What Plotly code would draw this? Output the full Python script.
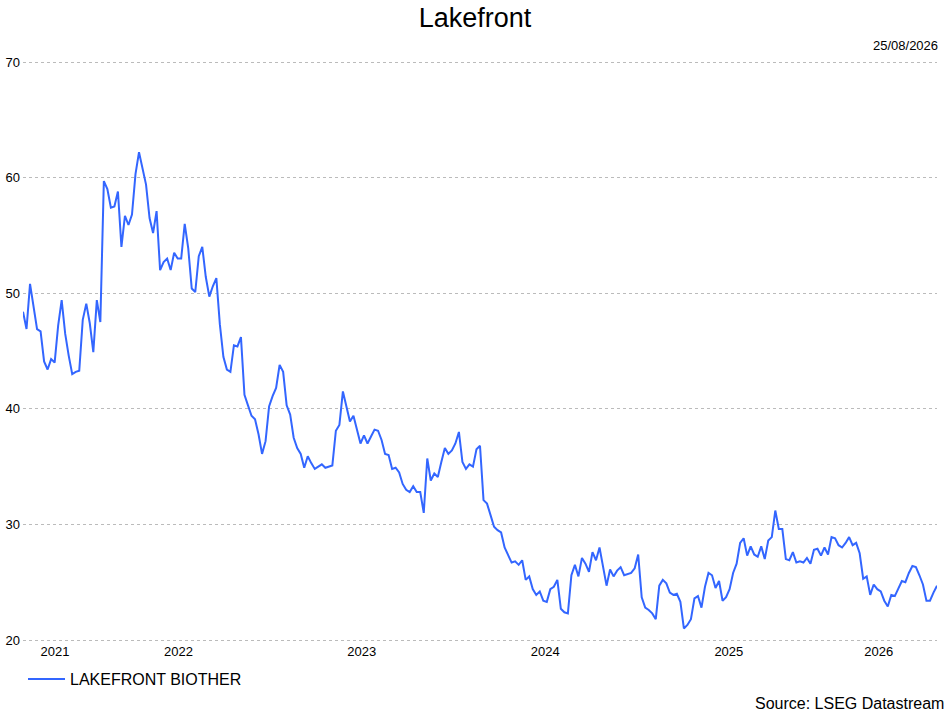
import pandas as pd
import plotly.graph_objects as go

TITLE = 'Lakefront'
SERIES_NAME = 'LAKEFRONT BIOTHER'
AS_OF = '25/08/2026'
SOURCE = 'Source: LSEG Datastream'

# weekly closes, first Friday 27/08/2021
START_DATE = '2021-08-27'
PRICES = [
    48.4, 46.9, 50.8, 49.0, 46.9, 46.7, 44.1, 43.4, 44.3, 44.0,
    47.2, 49.4, 46.5, 44.6, 43.0, 43.2, 43.3, 47.7, 49.1, 47.4,
    44.9, 49.4, 47.5, 59.7, 59.0, 57.4, 57.5, 58.8, 54.0, 56.7,
    55.9, 56.8, 60.3, 62.2, 60.9, 59.4, 56.5, 55.2, 57.1, 52.0,
    52.7, 53.0, 52.0, 53.5, 53.0, 53.0, 56.0, 53.9, 50.4, 50.1,
    53.2, 54.0, 51.4, 49.7, 50.6, 51.3, 47.3, 44.5, 43.4, 43.2,
    45.5, 45.4, 46.2, 41.2, 40.3, 39.4, 39.1, 37.8, 36.1, 37.2,
    40.2, 41.1, 41.8, 43.8, 43.2, 40.3, 39.5, 37.5, 36.6, 36.1,
    34.9, 35.9, 35.3, 34.8, 35.0, 35.2, 34.9, 35.0, 35.1, 38.1,
    38.6, 41.5, 40.2, 38.9, 39.4, 38.2, 37.0, 37.7, 37.0, 37.6,
    38.2, 38.1, 37.3, 36.1, 36.0, 34.8, 34.9, 34.5, 33.5, 33.0,
    32.8, 33.3, 32.8, 32.8, 31.0, 35.7, 33.8, 34.4, 34.1, 35.4,
    36.6, 36.1, 36.4, 37.0, 38.0, 35.4, 34.8, 35.2, 35.0, 36.5,
    36.8, 32.1, 31.8, 30.8, 29.8, 29.5, 29.3, 28.0, 27.4, 26.7,
    26.8, 26.5, 26.9, 25.2, 25.5, 24.4, 23.9, 24.2, 23.4, 23.3,
    24.4, 24.6, 25.2, 22.7, 22.4, 22.3, 25.6, 26.5, 25.5, 27.1,
    26.6, 25.9, 27.6, 26.9, 28.0, 26.5, 24.7, 26.1, 25.5, 26.0,
    26.3, 25.6, 25.7, 25.8, 26.2, 27.4, 23.7, 22.8, 22.6, 22.3,
    21.8, 24.7, 25.2, 24.9, 24.1, 23.9, 24.0, 23.3, 21.0, 21.3,
    21.8, 23.6, 23.8, 22.8, 24.6, 25.8, 25.6, 24.5, 25.1, 23.4,
    23.7, 24.4, 25.8, 26.6, 28.4, 28.8, 27.3, 28.1, 27.4, 27.2,
    28.1, 27.0, 28.6, 28.9, 31.2, 29.6, 29.6, 27.0, 26.9, 27.6,
    26.7, 26.8, 26.7, 27.1, 26.6, 27.8, 27.9, 27.3, 28.0, 27.4,
    28.9, 28.8, 28.2, 28.0, 28.4, 28.9, 28.2, 28.4, 27.5, 25.3,
    25.5, 23.9, 24.8, 24.4, 24.2, 23.4, 22.9, 23.9, 23.8, 24.4,
    25.1, 25.0, 25.8, 26.4, 26.3, 25.6, 24.8, 23.4, 23.4, 24.1,
    24.7,
]

YEAR_LABELS = ['2021', '2022', '2023', '2024', '2025', '2026']
Y_TICKS = [20, 30, 40, 50, 60, 70]

FONT = 'Liberation Sans, Arial, sans-serif'

PLOT_H = 582  # plot area height in px (2px spare at each end so edge grid lines show)


def year_label_positions(dates):
    # labels sit in the middle of the visible part of each year
    first, last = dates[0], dates[-1]
    vals = []
    for label in YEAR_LABELS:
        start = max(first, pd.Timestamp(f'{label}-01-01'))
        end = min(last, pd.Timestamp(f'{int(label) + 1}-01-01'))
        vals.append(start + (end - start) / 2)
    return vals


def generate_plot() -> go.Figure:
    dates = pd.date_range(start=START_DATE, periods=len(PRICES), freq='7D')

    fig = go.Figure()
    fig.add_trace(
        go.Scatter(name=SERIES_NAME, x=dates, y=PRICES, mode='lines',
                   line=dict(color='#3366ff', width=2))
    )

    pad = 2 * (Y_TICKS[-1] - Y_TICKS[0]) / (PLOT_H - 4)
    fig.update_layout(
        width=950, height=712,
        margin=dict(l=23, r=13, t=60, b=70),
        paper_bgcolor='white',
        plot_bgcolor='white',
        font=dict(family=FONT, color='#000000', size=13),
        title=dict(text=TITLE, x=0.5, xref='container', y=1 - 18 / 712, yref='container',
                   xanchor='center', yanchor='middle', font=dict(size=27, color='#000000')),
        showlegend=True,
        legend=dict(orientation='h', x=0, xanchor='left', y=-37 / PLOT_H, yanchor='middle',
                    itemwidth=37, font=dict(size=16), bgcolor='rgba(0,0,0,0)'),
        xaxis=dict(
            range=[dates[0], dates[-1]],
            tickmode='array',
            tickvals=year_label_positions(dates),
            ticktext=YEAR_LABELS,
            showgrid=False, showline=False, zeroline=False, ticks='',
            tickfont=dict(size=13),
        ),
        yaxis=dict(
            range=[Y_TICKS[0] - pad, Y_TICKS[-1] + pad],
            tickmode='array',
            tickvals=Y_TICKS,
            showgrid=True, gridcolor='#bbbbbb', gridwidth=1, griddash='dot',
            showline=False, zeroline=False, ticks='',
            tickfont=dict(size=13),
            automargin=False,
            ticklabelstandoff=2,
        ),
        annotations=[
            dict(text=AS_OF, xref='paper', yref='paper', x=1 + 3 / 914, y=1 + 15 / PLOT_H,
                 xanchor='right', yanchor='middle', showarrow=False, font=dict(size=13)),
            dict(text=SOURCE, xref='paper', yref='paper', x=1 + 9 / 914, y=-61 / PLOT_H,
                 xanchor='right', yanchor='middle', showarrow=False, font=dict(size=16)),
        ],
    )
    return fig


fig = generate_plot()
# drop the browser's default body margin so the figure sits at the page corner
fig.write_html('out.html', config={'displayModeBar': False},
               post_script="document.body.style.margin = '0px';")
